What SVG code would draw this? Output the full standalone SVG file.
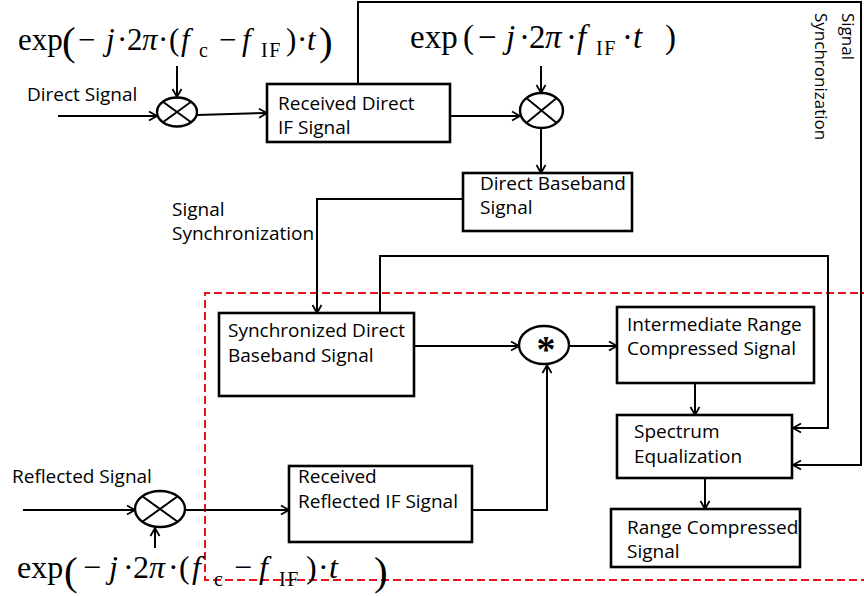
<svg xmlns="http://www.w3.org/2000/svg" width="864" height="596" viewBox="0 0 864 596">
  <style>
    .lbl { font-family: "Open Sans", "Liberation Sans", sans-serif; font-size: 19px; fill: #000; }
    .vlbl { font-size: 17px; }
    .eq { font-family: "Liberation Serif", "Times New Roman", serif; fill: #000; }
    .it { font-style: italic; }
    .sub { font-size: 20px; letter-spacing: 1.5px; }
    .big { font-size: 41px; }
    .box { fill: #fff; stroke: #000; stroke-width: 2.6; }
    .op { fill: #fff; stroke: #000; stroke-width: 2.4; }
    .wire { fill: none; stroke: #000; stroke-width: 2; }
    .arr { marker-end: url(#head); }
    .zone { fill: none; stroke: #e8141b; stroke-width: 2; stroke-dasharray: 8 4; }
  </style>
  <defs>
    <marker id="head" markerUnits="userSpaceOnUse" markerWidth="14" markerHeight="14" refX="10" refY="6" orient="auto">
      <path d="M2,1.5 L10,6 L2,10.5" fill="none" stroke="#000" stroke-width="1.8"/>
    </marker>
  </defs>
  <rect width="864" height="596" fill="#fff"/>

  <!-- processing zone (dashed) -->
  <g id="zone">
    <path class="zone" d="M870,293 H205 V580 H870"/>
  </g>

  <!-- connectors -->
  <g id="connectors">
    <line class="wire arr" x1="58" y1="116" x2="157" y2="116"/>
    <line class="wire arr" x1="177" y1="66" x2="177" y2="97"/>
    <line class="wire arr" x1="197" y1="115" x2="267" y2="113"/>
    <line class="wire arr" x1="450" y1="116" x2="520" y2="116"/>
    <line class="wire arr" x1="541" y1="66" x2="541" y2="93"/>
    <line class="wire arr" x1="541" y1="128" x2="541" y2="173"/>
    <path class="wire arr" d="M358,83 V2 H861 V465 H793"/>
    <path class="wire arr" d="M463,199 H317 V313"/>
    <path class="wire arr" d="M380,313 V256 H828 V428 H793"/>
    <line class="wire arr" x1="414" y1="346" x2="519" y2="346"/>
    <line class="wire arr" x1="569" y1="346" x2="617" y2="346"/>
    <line class="wire arr" x1="695" y1="383" x2="695" y2="415"/>
    <line class="wire arr" x1="705" y1="478" x2="705" y2="509"/>
    <line class="wire arr" x1="23" y1="510" x2="135" y2="510"/>
    <line class="wire arr" x1="155" y1="548" x2="155" y2="528"/>
    <line class="wire arr" x1="185" y1="510" x2="289" y2="510"/>
    <path class="wire arr" d="M472,510 H547 V365"/>
  </g>

  <!-- mixers -->
  <g id="mix-direct">
    <ellipse class="op" cx="177" cy="112" rx="20" ry="14.5"/>
    <path class="wire" d="M162.9,101.7 L191.1,122.3 M162.9,122.3 L191.1,101.7"/>
  </g>
  <g id="mix-baseband">
    <ellipse class="op" cx="541.5" cy="110.5" rx="21.5" ry="17.5"/>
    <path class="wire" d="M526.3,98.1 L556.7,122.9 M526.3,122.9 L556.7,98.1"/>
  </g>
  <g id="mix-reflected">
    <ellipse class="op" cx="160" cy="509" rx="25" ry="18"/>
    <path class="wire" d="M142.3,496.3 L177.7,521.7 M142.3,521.7 L177.7,496.3"/>
  </g>
  <g id="convolve">
    <ellipse class="op" cx="544" cy="345" rx="25" ry="19"/>
    <text x="546" y="362" text-anchor="middle" style="font-family:'Liberation Serif',serif;font-weight:bold;font-size:38px">*</text>
  </g>

  <!-- boxes -->
  <g id="received-direct-if">
    <rect class="box" x="267" y="84" width="183" height="58"/>
    <text class="lbl" x="278" y="110">Received Direct</text>
    <text class="lbl" x="278" y="134">IF Signal</text>
  </g>
  <g id="direct-baseband">
    <rect class="box" x="463" y="173" width="169" height="58"/>
    <text class="lbl" x="480" y="190">Direct Baseband</text>
    <text class="lbl" x="480" y="214">Signal</text>
  </g>
  <g id="synchronized-direct">
    <rect class="box" x="219" y="313" width="195" height="83"/>
    <text class="lbl" x="228" y="337">Synchronized Direct</text>
    <text class="lbl" x="228" y="362">Baseband Signal</text>
  </g>
  <g id="intermediate">
    <rect class="box" x="617" y="307" width="197" height="76"/>
    <text class="lbl" x="627" y="331">Intermediate Range</text>
    <text class="lbl" x="627" y="355">Compressed Signal</text>
  </g>
  <g id="spectrum-eq">
    <rect class="box" x="617" y="415" width="175" height="63"/>
    <text class="lbl" x="634" y="438">Spectrum</text>
    <text class="lbl" x="634" y="463">Equalization</text>
  </g>
  <g id="range-compressed">
    <rect class="box" x="611" y="509" width="189" height="58"/>
    <text class="lbl" x="627" y="534">Range Compressed</text>
    <text class="lbl" x="627" y="558">Signal</text>
  </g>
  <g id="received-reflected-if">
    <rect class="box" x="289" y="466" width="183" height="76"/>
    <text class="lbl" x="298" y="483">Received</text>
    <text class="lbl" x="298" y="508">Reflected IF Signal</text>
  </g>

  <!-- free labels -->
  <g id="labels">
    <text class="lbl" x="27" y="101">Direct Signal</text>
    <text class="lbl" x="12" y="483">Reflected Signal</text>
    <text class="lbl" x="172" y="216">Signal</text>
    <text class="lbl" x="172" y="240">Synchronization</text>
    <g transform="translate(842,13) rotate(90)">
      <text class="lbl vlbl" x="0" y="0">Signal</text>
      <text class="lbl vlbl" x="0" y="27">Synchronization</text>
    </g>
  </g>

  <!-- mixing-term equations -->
  <g id="eq-direct">
    <text class="eq" style="font-size:31px"><tspan x="18" y="50">exp</tspan><tspan class="big" x="62" y="55">(</tspan><tspan x="78" y="50">−</tspan><tspan class="it" x="106" y="50">j</tspan><tspan x="117" y="50">·</tspan><tspan x="127" y="50">2</tspan><tspan class="it" x="142" y="50">π</tspan><tspan x="158" y="50">·</tspan><tspan x="169" y="50">(</tspan><tspan class="it" x="181" y="50">f</tspan><tspan class="sub" x="199" y="57">c</tspan><tspan x="219" y="50">−</tspan><tspan class="it" x="242" y="50">f</tspan><tspan class="sub" x="261" y="57">IF</tspan><tspan x="286" y="50">)</tspan><tspan x="297" y="50">·</tspan><tspan class="it" x="307" y="50">t</tspan><tspan class="big" x="319" y="55">)</tspan></text>
  </g>
  <g id="eq-if">
    <text class="eq" style="font-size:33px"><tspan x="410" y="48">exp</tspan><tspan x="463" y="48">(</tspan><tspan x="478" y="48">−</tspan><tspan class="it" x="506" y="48">j</tspan><tspan x="519" y="48">·</tspan><tspan x="529" y="48">2</tspan><tspan class="it" x="545" y="48">π</tspan><tspan x="566" y="48">·</tspan><tspan class="it" x="577" y="48">f</tspan><tspan class="sub" x="596" y="55">IF</tspan><tspan x="622" y="48">·</tspan><tspan class="it" x="633" y="48">t</tspan><tspan x="665" y="48">)</tspan></text>
  </g>
  <g id="eq-reflected">
    <text class="eq" style="font-size:32px"><tspan x="17" y="578">exp</tspan><tspan class="big" x="64" y="585">(</tspan><tspan x="83" y="578">−</tspan><tspan class="it" x="109" y="578">j</tspan><tspan x="123" y="578">·</tspan><tspan x="133" y="578">2</tspan><tspan class="it" x="149" y="578">π</tspan><tspan x="168" y="578">·</tspan><tspan x="179" y="578">(</tspan><tspan class="it" x="192" y="578">f</tspan><tspan class="sub" x="214" y="586">c</tspan><tspan x="234" y="578">−</tspan><tspan class="it" x="259" y="578">f</tspan><tspan class="sub" x="279" y="586">IF</tspan><tspan x="306" y="578">)</tspan><tspan x="318" y="578">·</tspan><tspan class="it" x="329" y="578">t</tspan><tspan class="big" x="374" y="585">)</tspan></text>
  </g>
</svg>
